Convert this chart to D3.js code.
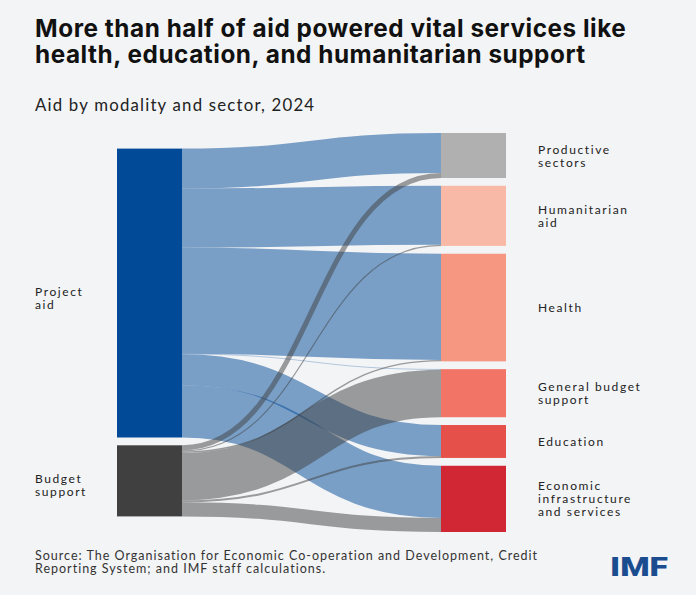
<!DOCTYPE html>
<html>
<head>
    <meta charset="utf-8">
    <title>Aid by modality and sector, 2024</title>
    <script src="https://d3js.org/d3.v7.min.js"></script>
    <style>
        html, body { margin: 0; padding: 0; background: #f3f4f6; }
        .title { font-family: Inter, sans-serif; font-weight: 700; font-size: 24.3px; fill: #111; letter-spacing: 0.55px; }
        .subtitle { font-family: Lato, sans-serif; font-size: 16.8px; fill: #222; letter-spacing: 1.2px; }
        .label { font-family: Lato, sans-serif; font-size: 12px; fill: #222; letter-spacing: 1.6px; }
        .note { font-family: Lato, sans-serif; font-size: 12.5px; fill: #333; letter-spacing: 1px; }
    </style>
</head>
<body>
<div id="chart"></div>
<script>
    // modalities (left) and sectors (right)
    const modalities = ["Project aid", "Budget support"];
    const modalityLabels = [["Project", "aid"], ["Budget", "support"]];
    const sectors = ["Productive sectors", "Humanitarian aid", "Health",
        "General budget support", "Education", "Economic infrastructure and services"];
    const sectorLabels = [["Productive", "sectors"], ["Humanitarian", "aid"], ["Health"],
        ["General budget", "support"], ["Education"], ["Economic", "infrastructure", "and services"]];

    // share of total aid (%), by sector
    const projectAid = [11.1, 16.4, 29.5, 0.15, 8.6, 14.5];
    const budgetSupport = [1.4, 0.3, 0.4, 13.2, 0.55, 3.9];

    const modalityColors = ["#004a98", "#404040"];
    const sectorColors = ["#b0b0b0", "#f8b9a7", "#f59781", "#f27466", "#e5514a", "#d12633"];

    const W = 696, H = 595;
    const chartTop = 133, chartBottom = 532, pad = 7.8, nodeW = 65;

    const svg = d3.select("#chart").append("svg")
        .attr("width", W).attr("height", H)
        .style("background", "#f3f4f6");

    // titles
    svg.append("text").attr("class", "title").attr("x", 35).attr("y", 37)
        .text("More than half of aid powered vital services like");
    svg.append("text").attr("class", "title").attr("x", 35).attr("y", 63)
        .text("health, education, and humanitarian support");
    svg.append("text").attr("class", "subtitle").attr("x", 35).attr("y", 111)
        .text("Aid by modality and sector, 2024");

    // build links
    const valuesBySource = [projectAid, budgetSupport];
    const links = [];
    valuesBySource.forEach((vals, si) => {
        vals.forEach((v, ti) => links.push({ s: si, t: ti, value: v }));
    });

    const leftTotals = valuesBySource.map(v => d3.sum(v));
    const rightTotals = sectors.map((_, ti) => d3.sum(valuesBySource, v => v[ti]));
    const total = d3.sum(rightTotals);

    // value -> pixels, fitted on the busier (right) column
    const k = d3.scaleLinear()
        .domain([0, total])
        .range([0, (chartBottom - chartTop) - pad * (sectors.length - 1)]);

    const x = d3.scaleLinear().domain([0, 1]).range([117, 441]);

    function stack(totals) {
        const span = k(d3.sum(totals)) + pad * (totals.length - 1);
        let y = (chartTop + chartBottom) / 2 - span / 2;
        return totals.map(t => {
            const n = { y0: y, y1: y + k(t) };
            y = n.y1 + pad;
            return n;
        });
    }
    const leftNodes = stack(leftTotals);
    const rightNodes = stack(rightTotals);

    // link offsets: source side ordered by target, target side by source
    const srcOff = leftNodes.map(n => n.y0);
    const tgtOff = rightNodes.map(n => n.y0);
    links.sort((a, b) => a.s - b.s || a.t - b.t).forEach(l => {
        l.w = k(l.value);
        l.sy = srcOff[l.s] + l.w / 2;
        srcOff[l.s] += l.w;
    });
    links.slice().sort((a, b) => a.t - b.t || a.s - b.s).forEach(l => {
        l.ty = tgtOff[l.t] + l.w / 2;
        tgtOff[l.t] += l.w;
    });

    const linkPath = d3.linkHorizontal();

    svg.append("g")
        .attr("fill", "none")
        .selectAll("path")
        .data(links)
        .join("path")
        .attr("d", d => linkPath({ source: [x(0) + nodeW, d.sy], target: [x(1), d.ty] }))
        .attr("stroke", d => modalityColors[d.s])
        .attr("stroke-opacity", 0.5)
        .attr("stroke-width", d => Math.max(0.5, d.w));

    // nodes
    svg.append("g").selectAll("rect")
        .data(leftNodes)
        .join("rect")
        .attr("x", x(0)).attr("width", nodeW)
        .attr("y", d => d.y0).attr("height", d => d.y1 - d.y0)
        .attr("fill", (d, i) => modalityColors[i]);

    svg.append("g").selectAll("rect")
        .data(rightNodes)
        .join("rect")
        .attr("x", x(1)).attr("width", nodeW)
        .attr("y", d => d.y0).attr("height", d => d.y1 - d.y0)
        .attr("fill", (d, i) => sectorColors[i]);

    // labels
    const lineH = 13;
    function addLabels(nodes, labels, lx, shift) {
        nodes.forEach((n, i) => {
            const lines = labels[i];
            const cy = (n.y0 + n.y1) / 2 - (lines.length - 1) * lineH / 2 + shift;
            const t = svg.append("text").attr("class", "label");
            lines.forEach((line, j) => {
                t.append("tspan").attr("x", lx).attr("y", cy + j * lineH + 4.5).text(line);
            });
        });
    }
    addLabels(leftNodes, modalityLabels, 35, 4.5);
    addLabels(rightNodes, sectorLabels, 538, 0);

    // source note
    svg.append("text").attr("class", "note").attr("x", 35).attr("y", 560)
        .text("Source: The Organisation for Economic Co-operation and Development, Credit");
    svg.append("text").attr("class", "note").attr("x", 35).attr("y", 573)
        .text("Reporting System; and IMF staff calculations.");

    // IMF wordmark
    svg.append("text")
        .attr("x", 610).attr("y", 576)
        .attr("textLength", 58).attr("lengthAdjust", "spacingAndGlyphs")
        .style("font-family", "Roboto, sans-serif")
        .style("font-weight", 900)
        .style("font-size", "25px")
        .style("fill", "#1a4c8f")
        .text("IMF");
</script>
</body>
</html>
